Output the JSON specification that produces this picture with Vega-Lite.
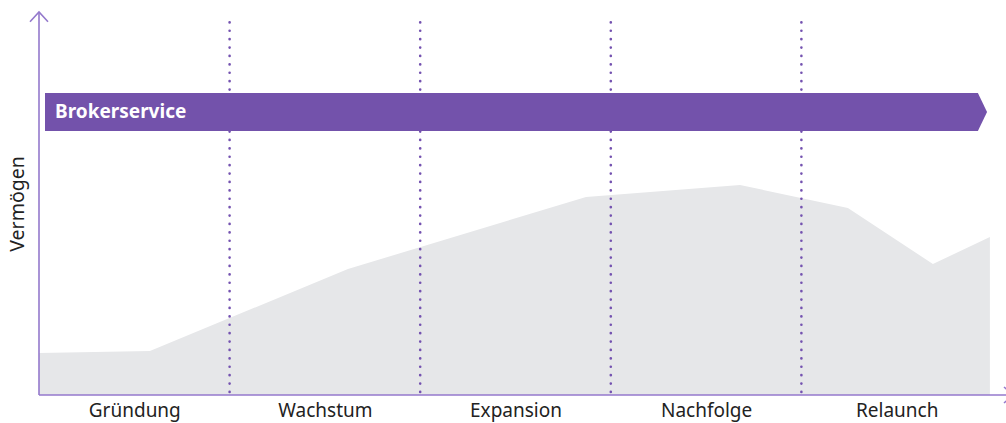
{
  "$schema": "https://vega.github.io/schema/vega-lite/v6.json",
  "width": 953,
  "height": 383,
  "autosize": {"type": "none"},
  "padding": {"left": 39, "top": 12, "right": 14, "bottom": 28},
  "background": "white",
  "config": {"view": {"stroke": null}},
  "datasets": {
    "wealth": [
      {"x": 0, "y": 10.97},
      {"x": 0.582, "y": 11.49},
      {"x": 1.621, "y": 32.9},
      {"x": 2.87, "y": 51.7},
      {"x": 3.678, "y": 54.83},
      {"x": 4.244, "y": 48.83},
      {"x": 4.69, "y": 34.2},
      {"x": 4.989, "y": 41.25}
    ],
    "dividers": [
      {"x": 1, "y": 0.78, "y2": 97.39},
      {"x": 2, "y": 0.78, "y2": 97.39},
      {"x": 3, "y": 0.78, "y2": 97.39},
      {"x": 4, "y": 0.78, "y2": 97.39}
    ],
    "band": [
      {"x": 0.0315, "top": 78.85, "bottom": 68.93},
      {"x": 4.926, "top": 78.85, "bottom": 68.93},
      {"x": 4.974, "top": 73.89, "bottom": 73.89}
    ],
    "bandLabel": [
      {"x": 0.084, "y": 73.89, "label": "Brokerservice"}
    ],
    "axes": [
      {"g": "yaxis", "o": 1, "x": 0, "y": 0},
      {"g": "yaxis", "o": 2, "x": 0, "y": 100},
      {"g": "yarrow", "o": 1, "x": -0.0472, "y": 97.47},
      {"g": "yarrow", "o": 2, "x": 0, "y": 100},
      {"g": "yarrow", "o": 3, "x": 0.0472, "y": 97.47},
      {"g": "xaxis", "o": 1, "x": 0, "y": 0},
      {"g": "xaxis", "o": 2, "x": 5.11, "y": 0},
      {"g": "xarrow", "o": 1, "x": 5.063, "y": 2.09},
      {"g": "xarrow", "o": 2, "x": 5.11, "y": 0},
      {"g": "xarrow", "o": 3, "x": 5.063, "y": -2.09}
    ]
  },
  "layer": [
    {
      "data": {"name": "wealth"},
      "mark": {"type": "area", "color": "#e6e7e9", "interpolate": "linear"},
      "encoding": {
        "x": {
          "field": "x",
          "type": "quantitative",
          "scale": {"domain": [0, 5], "nice": false, "zero": false},
          "axis": {
            "title": null,
            "values": [0.5, 1.5, 2.5, 3.5, 4.5],
            "labelExpr": "['Gründung','Wachstum','Expansion','Nachfolge','Relaunch'][floor(datum.value)]",
            "domain": false,
            "ticks": false,
            "tickSize": 0,
            "grid": false,
            "labelFont": "Noto Sans",
            "labelFontSize": 19,
            "labelColor": "#222222",
            "labelPadding": 6,
            "labelFlush": false,
            "labelOverlap": false
          }
        },
        "y": {
          "field": "y",
          "type": "quantitative",
          "scale": {"domain": [0, 100], "nice": false, "zero": false},
          "axis": {
            "title": "Vermögen",
            "labels": false,
            "ticks": false,
            "tickSize": 0,
            "domain": false,
            "grid": false,
            "titleFont": "Noto Sans",
            "titleFontSize": 19.5,
            "titleFontWeight": "normal",
            "titleColor": "#222222",
            "titlePadding": 12
          }
        }
      }
    },
    {
      "data": {"name": "dividers"},
      "mark": {"type": "rule", "color": "#7452b0", "strokeWidth": 2.6, "strokeCap": "round", "strokeDash": [0.1, 8.3]},
      "encoding": {
        "x": {"field": "x", "type": "quantitative"},
        "y": {"field": "y", "type": "quantitative"},
        "y2": {"field": "y2"}
      }
    },
    {
      "data": {"name": "band"},
      "mark": {"type": "area", "color": "#7352ab", "interpolate": "linear", "opacity": 1},
      "encoding": {
        "x": {"field": "x", "type": "quantitative"},
        "y": {"field": "top", "type": "quantitative"},
        "y2": {"field": "bottom"}
      }
    },
    {
      "data": {"name": "bandLabel"},
      "mark": {"type": "text", "color": "white", "font": "Noto Sans", "fontSize": 19, "fontWeight": "bold", "align": "left", "baseline": "middle"},
      "encoding": {
        "x": {"field": "x", "type": "quantitative"},
        "y": {"field": "y", "type": "quantitative"},
        "text": {"field": "label"}
      }
    },
    {
      "data": {"name": "axes"},
      "mark": {"type": "line", "color": "#9479cc", "strokeWidth": 1.6, "interpolate": "linear"},
      "encoding": {
        "x": {"field": "x", "type": "quantitative"},
        "y": {"field": "y", "type": "quantitative"},
        "detail": {"field": "g"},
        "order": {"field": "o"}
      }
    }
  ]
}
